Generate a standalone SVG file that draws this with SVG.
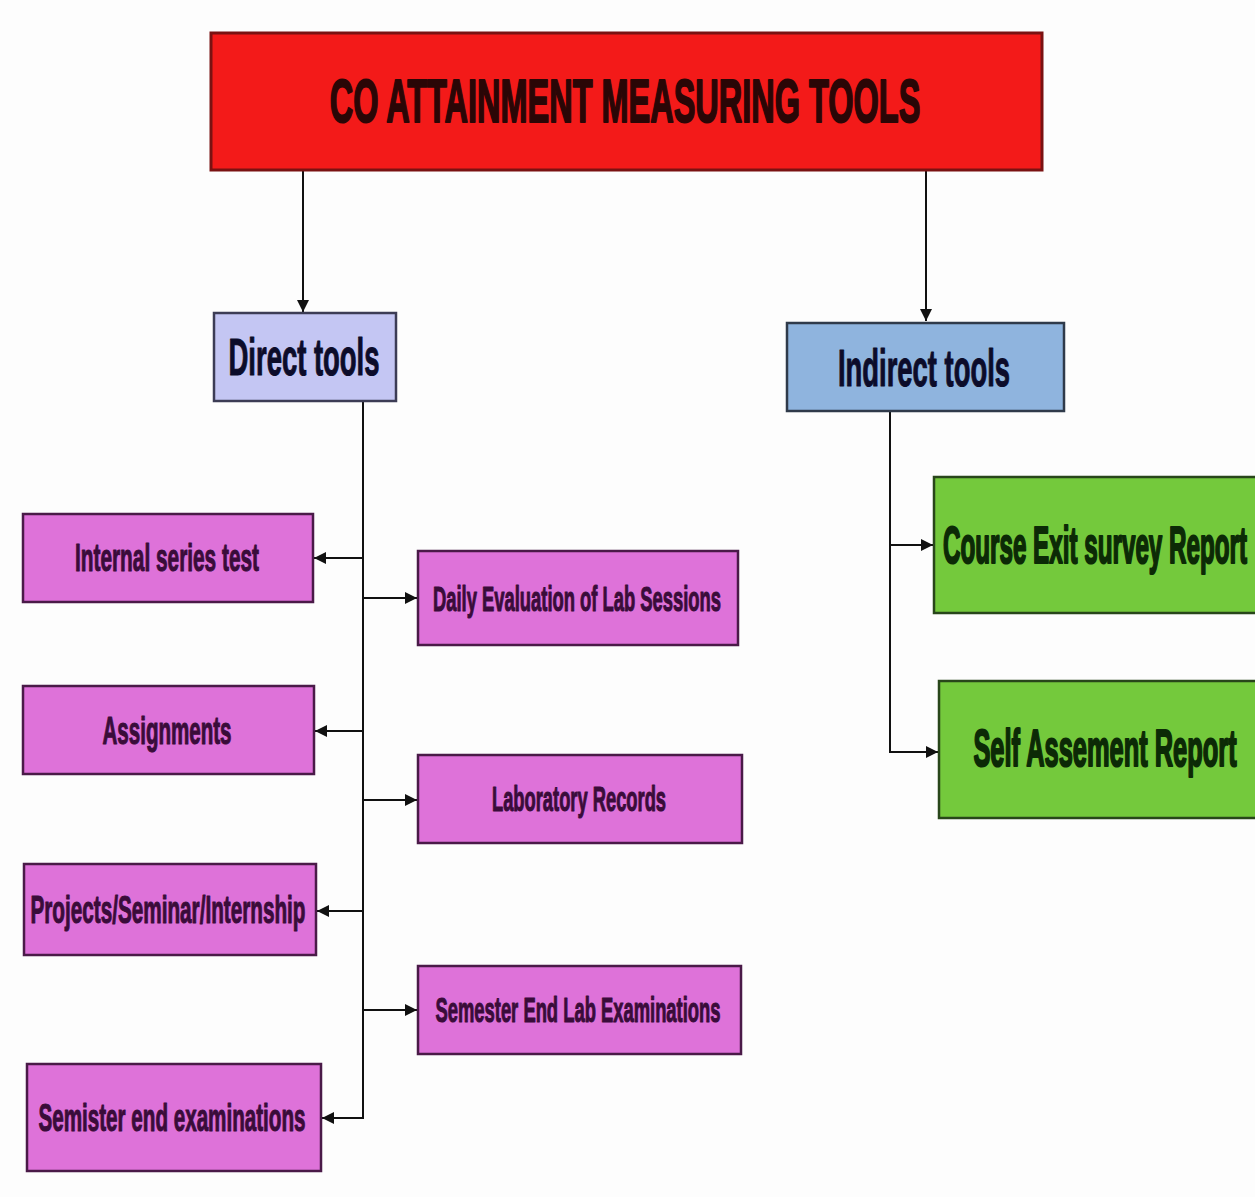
<svg xmlns="http://www.w3.org/2000/svg" width="1255" height="1197" viewBox="0 0 1255 1197">
  <style>
    .lbl { font-family: "Liberation Sans", Arial, sans-serif; font-weight: bold; text-anchor: middle; stroke-width: 1.1; stroke-linejoin: round; }
    .title-box { fill: #f31a19; stroke: #7a1212; stroke-width: 3; }
    .direct-box { fill: #c4c6f3; stroke: #3c3c55; stroke-width: 2.5; }
    .indirect-box { fill: #8fb4de; stroke: #2f3a4a; stroke-width: 2.5; }
    .pink-box { fill: #de72d9; stroke: #4a1a48; stroke-width: 2.5; }
    .green-box { fill: #74c93c; stroke: #28461a; stroke-width: 2.5; }
    .t-title { fill: #2a0606; stroke: #2a0606; font-size: 62px; stroke-width: 2; }
    .t-blue { fill: #0c0c2a; stroke: #0c0c2a; font-size: 52px; }
    .t-pink { fill: #3a0c3a; stroke: #3a0c3a; font-size: 38px; }
    .t-pink-s { fill: #3a0c3a; stroke: #3a0c3a; font-size: 35px; }
    .t-green { fill: #0c2a06; stroke: #0c2a06; font-size: 52px; stroke-width: 2.2; }
    .wire { fill: none; stroke: #111; stroke-width: 2; }
  </style>
  <defs>
    <marker id="arrow" viewBox="0 0 12 12" refX="12" refY="6" markerWidth="12" markerHeight="12" markerUnits="userSpaceOnUse" orient="auto">
      <path d="M0,0 L12,6 L0,12 Z" fill="#111"/>
    </marker>
  </defs>

  <rect width="1255" height="1197" fill="#fdfdfd"/>

  <!-- connectors -->
  <g id="connectors">
    <line class="wire" x1="303" y1="170" x2="303" y2="312" marker-end="url(#arrow)"/>
    <line class="wire" x1="926" y1="170" x2="926" y2="321" marker-end="url(#arrow)"/>
    <!-- direct tools trunk -->
    <polyline class="wire" points="363,401 363,1118 322,1118" marker-end="url(#arrow)"/>
    <line class="wire" x1="363" y1="558" x2="314" y2="558" marker-end="url(#arrow)"/>
    <line class="wire" x1="363" y1="731" x2="315" y2="731" marker-end="url(#arrow)"/>
    <line class="wire" x1="363" y1="911" x2="317" y2="911" marker-end="url(#arrow)"/>
    <line class="wire" x1="363" y1="598" x2="417" y2="598" marker-end="url(#arrow)"/>
    <line class="wire" x1="363" y1="800" x2="417" y2="800" marker-end="url(#arrow)"/>
    <line class="wire" x1="363" y1="1010" x2="417" y2="1010" marker-end="url(#arrow)"/>
    <!-- indirect tools trunk -->
    <polyline class="wire" points="890,411 890,752 938,752" marker-end="url(#arrow)"/>
    <line class="wire" x1="890" y1="545" x2="933" y2="545" marker-end="url(#arrow)"/>
  </g>

  <g id="root">
    <rect class="title-box" x="211" y="33" width="831" height="137"/>
    <text class="lbl t-title" transform="translate(625,122) scale(0.524,1)" x="0" y="0">CO ATTAINMENT MEASURING TOOLS</text>
  </g>

  <g id="direct-tools">
    <rect class="direct-box" x="214" y="313" width="182" height="88"/>
    <text class="lbl t-blue" x="304" y="375" textLength="151" lengthAdjust="spacingAndGlyphs">Direct tools</text>
  </g>

  <g id="indirect-tools">
    <rect class="indirect-box" x="787" y="323" width="277" height="88"/>
    <text class="lbl t-blue" x="924" y="386" textLength="172" lengthAdjust="spacingAndGlyphs">Indirect tools</text>
  </g>

  <g id="internal-series-test">
    <rect class="pink-box" x="23" y="514" width="290" height="88"/>
    <text class="lbl t-pink" x="167" y="571" textLength="184" lengthAdjust="spacingAndGlyphs">Internal series test</text>
  </g>

  <g id="daily-evaluation">
    <rect class="pink-box" x="418" y="551" width="320" height="94"/>
    <text class="lbl t-pink-s" x="577" y="611" textLength="288" lengthAdjust="spacingAndGlyphs">Daily Evaluation of Lab Sessions</text>
  </g>

  <g id="assignments">
    <rect class="pink-box" x="23" y="686" width="291" height="88"/>
    <text class="lbl t-pink" x="167" y="744" textLength="129" lengthAdjust="spacingAndGlyphs">Assignments</text>
  </g>

  <g id="laboratory-records">
    <rect class="pink-box" x="418" y="755" width="324" height="88"/>
    <text class="lbl t-pink-s" x="579" y="811" textLength="174" lengthAdjust="spacingAndGlyphs">Laboratory Records</text>
  </g>

  <g id="projects">
    <rect class="pink-box" x="24" y="864" width="292" height="91"/>
    <text class="lbl t-pink" x="168" y="923" textLength="275" lengthAdjust="spacingAndGlyphs">Projects/Seminar/Internship</text>
  </g>

  <g id="semester-end-lab">
    <rect class="pink-box" x="418" y="966" width="323" height="88"/>
    <text class="lbl t-pink-s" x="578" y="1022" textLength="285" lengthAdjust="spacingAndGlyphs">Semester End Lab Examinations</text>
  </g>

  <g id="semister-end-exams">
    <rect class="pink-box" x="27" y="1064" width="294" height="107"/>
    <text class="lbl t-pink" x="172" y="1131" textLength="267" lengthAdjust="spacingAndGlyphs">Semister end examinations</text>
  </g>

  <g id="course-exit-survey">
    <rect class="green-box" x="934" y="477" width="340" height="136"/>
    <text class="lbl t-green" transform="translate(1095,563) scale(0.466,1)" x="0" y="0">Course Exit survey Report</text>
  </g>

  <g id="self-assessment">
    <rect class="green-box" x="939" y="681" width="335" height="137"/>
    <text class="lbl t-green" transform="translate(1105,766) scale(0.489,1)" x="0" y="0">Self Assement Report</text>
  </g>
</svg>
